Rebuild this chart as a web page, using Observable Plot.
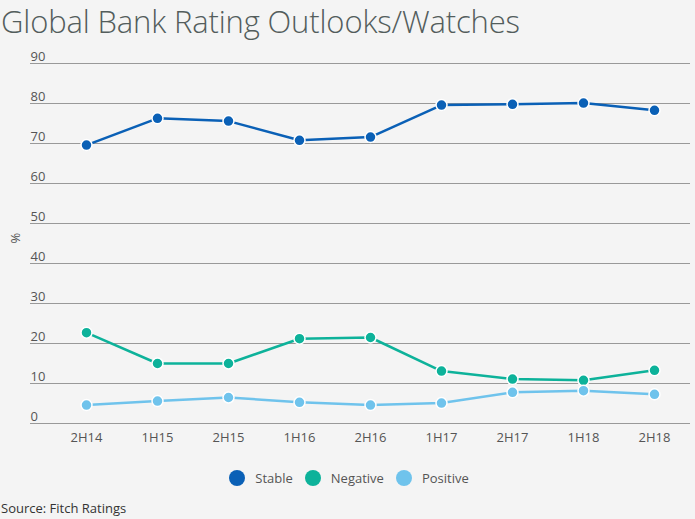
<!DOCTYPE html>
<html>
<head>
<meta charset="utf-8">
<script src="https://cdn.jsdelivr.net/npm/d3@7"></script>
<script src="https://cdn.jsdelivr.net/npm/@observablehq/plot@0.6"></script>
<style>
  html, body { margin: 0; padding: 0; background: #f4f4f4; }
  body { width: 695px; height: 519px; overflow: hidden; font-family: "Open Sans", sans-serif; }
  #title { font-size: 31px; font-weight: 300; color: #535d5c; height: 40px; line-height: 42px; padding-left: 1px; white-space: nowrap; letter-spacing: -0.15px; }
  #legend { display: flex; justify-content: center; align-items: center; height: 36px; font-size: 13px; color: #555; margin-left: 3px; }
  .item { display: flex; align-items: center; margin: 0 6px; }
  .sw { width: 16px; height: 16px; border-radius: 50%; margin-right: 10px; }
  #source { font-size: 13px; color: #333; padding-left: 1px; margin-top: 3px; }
</style>
</head>
<body>
<div id="title">Global Bank Rating Outlooks/Watches</div>
<div id="chart"></div>
<div id="legend"></div>
<div id="source">Source: Fitch Ratings</div>
<script>
const periods = ["2H14", "1H15", "2H15", "1H16", "2H16", "1H17", "2H17", "1H18", "2H18"];
const stable   = [69.6, 76.3, 75.6, 70.8, 71.6, 79.6, 79.8, 80.1, 78.3];
const negative = [22.7, 15.0, 15.0, 21.2, 21.5, 13.1, 11.1, 10.8, 13.3];
const positive = [4.6, 5.6, 6.5, 5.3, 4.6, 5.1, 7.8, 8.2, 7.3];
const seriesNames = ["Stable", "Negative", "Positive"];
const seriesColors = ["#0a60b6", "#0db29a", "#6fc3ec"];
const yTicks = [0, 10, 20, 30, 40, 50, 60, 70, 80, 90];

const rows = [];
[stable, negative, positive].forEach((vals, si) => {
  vals.forEach((v, i) => rows.push({period: periods[i], value: v, series: seriesNames[si]}));
});

const chart = Plot.plot({
  width: 695,
  height: 420,
  marginLeft: 30,
  marginRight: 5,
  marginTop: 23,
  marginBottom: 37,
  style: {background: "transparent", fontFamily: "Open Sans", fontSize: "13px", color: "#555"},
  x: {type: "point", domain: periods, padding: 0, insetLeft: 56, insetRight: 36, label: null},
  y: {domain: [0, 90], label: null, axis: null},
  color: {domain: seriesNames, range: seriesColors},
  marks: [
    Plot.ruleY(yTicks, {stroke: "#999", strokeWidth: 1}),
    Plot.text(yTicks, {y: d => d, text: d => String(d), frameAnchor: "left", textAnchor: "start", lineAnchor: "bottom", dy: -3, fill: "#555", fontSize: 13}),
    Plot.text(["%"], {frameAnchor: "left", dx: -15, rotate: -90, fill: "#555", fontSize: 13}),
    Plot.axisX({tickSize: 0, tickPadding: 9, fontSize: 13, fill: "#555", label: null}),
    Plot.line(rows, {x: "period", y: "value", z: "series", stroke: "series", strokeWidth: 2.5}),
    Plot.dot(rows, {x: "period", y: "value", fill: "series", r: 5.5, stroke: "white", strokeWidth: 1.5})
  ]
});
document.getElementById("chart").appendChild(chart);

const legend = document.getElementById("legend");
seriesNames.forEach((name, i) => {
  const item = document.createElement("div");
  item.className = "item";
  item.innerHTML = `<div class="sw" style="background:${seriesColors[i]}"></div><span>${name}</span>`;
  legend.appendChild(item);
});
</script>
</body>
</html>
